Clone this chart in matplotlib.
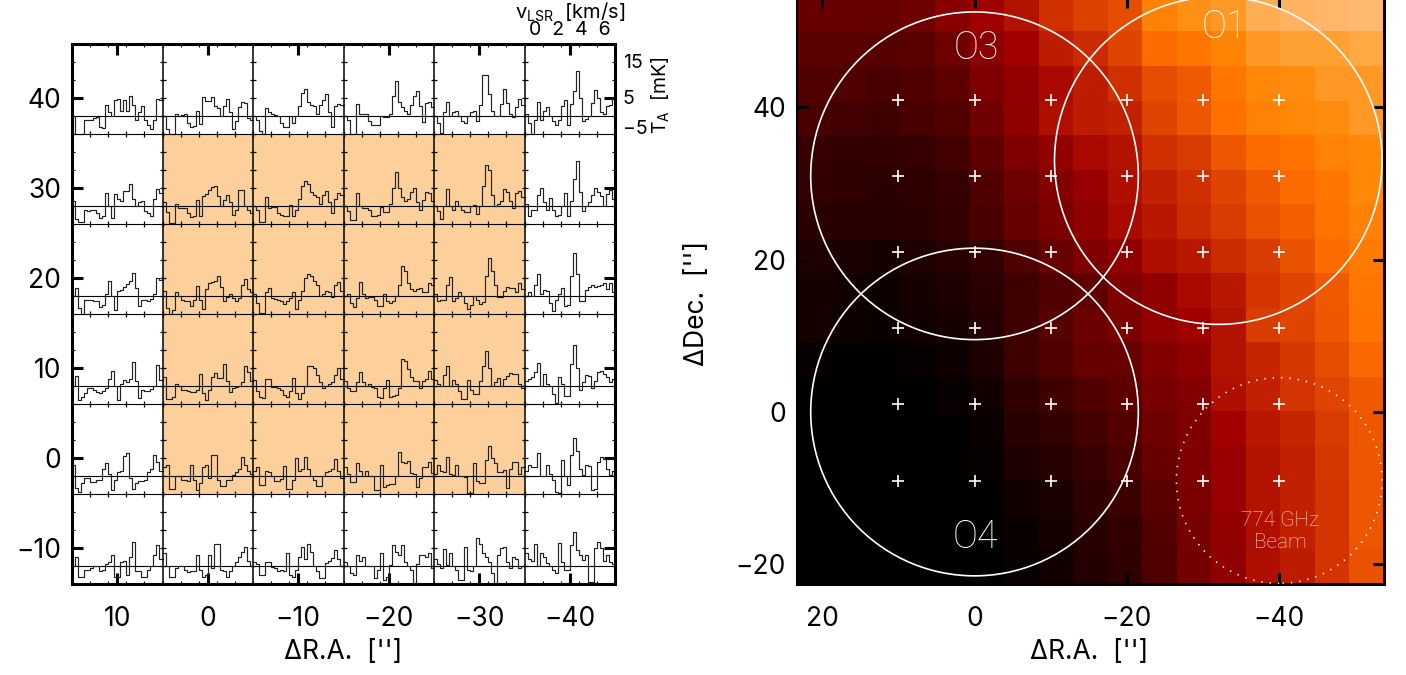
import numpy as np
import matplotlib
matplotlib.use('Agg')
import matplotlib.pyplot as plt
from matplotlib.colors import LinearSegmentedColormap
from matplotlib.patches import Circle, Rectangle

plt.rcParams['font.family'] = ['Inter', 'DejaVu Sans']
plt.rcParams['font.weight'] = 'normal'
plt.rcParams['mathtext.default'] = 'regular'

# spectra in mK, one list per panel (30 channels each)
row1 = [
    [0,-5,-5,-5,-1.2,-1,-1,-0.5,-0.2,-3,-3.2,3,1,0,4.5,4.8,1.5,4.5,1.5,5.6,3,-1,1,2.8,-1,-2.5,-3.5,-1,4.8,4.5],
    [0,-3.5,-5,-5,0.5,0,0.2,0.5,-2,-3,-2.8,1.3,-2.2,5.3,4.2,4.2,5.4,2.8,2.2,0,2.8,4.8,1,-3.5,-1.5,2.5,4,3.5,-0.5,-1],
    [0,-1,-4.2,-5,2.3,1,0.5,0.3,0,-2,-3,-3,0,-2,0,2.8,6.4,7.4,4,3,2.8,0.5,3,4.5,6.2,1,-3,2.8,3.2,3],
    [0,-1,-5,-5,3.2,0.5,0.5,0.5,-1.5,-2.4,-2.6,-2.4,0,-0.3,-0.3,0.5,5.5,9.7,4,2.5,1.5,0.5,3,5.5,7,2.8,-1.8,3.7,3.8,2.5],
    [0,-2,-4.6,1,4,0,1,1.4,0,-1.5,-2,0,1,1.4,-1.4,3,11.5,11.5,6,1.4,0,0,3.2,7.5,3.5,0.5,-0.3,2.5,4.6,3],
    [0.5,-2,-5,-1,4,-1,1.4,2.5,0,-1.5,-2.4,-1,2.8,4.4,-2.4,3.2,7,12.5,5,-1.4,-0.8,0,3.5,7.2,5,1,0.5,2.8,3,5],
]
row2 = [
    [1.4,-3.5,-4.5,-4.5,-1,-1.4,-1,-1,-2,-3.2,-2.8,3.7,0,-3.2,3.2,2,1.4,4.2,4.2,6.2,2,0,1,1.4,-1.4,-2,-2.8,2,4.8,3.5],
    [1,-1.8,-4.8,-4.8,0.6,-0.5,-0.5,-0.5,-2,-3,-2.8,1.8,-2.8,2.8,3.2,4.5,5.4,5.6,2.8,0,1.8,3,1,-2.4,-1,4.4,4.4,0,-1,-2],
    [0,-1,-4.4,-4.4,2.6,-0.5,-0.3,-0.3,-2,-2.4,-2.8,-2.8,0.4,-2.8,-1,2,5.5,7,6,4,3,2.5,0.5,3,4.2,1,-2,2,3.7,3],
    [0,-1.5,-3.8,-3.8,3.7,0,-0.5,-0.5,-1,-2.8,-2.8,-2.4,-0.2,-1.7,-1.7,0.6,5,9.4,5,2.6,1.4,2,4,5,1,-1,1.6,4,3.7,1.4],
    [0,-1.5,-3.7,0,4.6,0,-1,1.4,0,-1,-1.8,-1.8,0,0.4,-2.2,0,5.5,11.4,10,3,0,0.5,1.5,4.8,4,1.5,-0.5,3.7,4.2,2.5],
    [0.5,-2.8,-1,-1,3,5,1,-1,2.3,-1,-2.8,-2.4,0,3.7,-2.8,1.4,7.5,12.5,4,-1.4,0,1,3,4.9,4,2.8,0,3.2,4.5,2],
]
row3 = [
    [0,2.3,-3.2,-5,-1,-1,-1.2,-1.5,-1.5,-3,-2.4,0.5,4.2,0,-4,1.4,1.8,2.4,3.2,4.2,6.5,2.3,-2.8,-1,-1,-1.4,-0.8,0.5,5,4.5],
    [1.4,-3.2,-5,-4,1,0,-1,-1.4,-1.5,-2.8,-1,2.8,-1,-3.7,2,3.5,4,4.2,5.5,2.5,-1.4,-0.4,0.5,-0.5,-1.4,-0.5,3,4.6,2,1],
    [0.5,-2,-4.6,-4.6,1,2.3,-0.5,-0.8,-1,-1.4,-2.3,-1.5,-0.5,1,-3.7,-1,1.5,5,6.2,5.5,4.2,3,0,0.5,1.5,1,-0.3,3,4,1.5],
    [0,0.5,-2,-3,-0.5,4,0.5,-0.5,-0.2,-0.2,-1,-2.8,-2.8,0.5,-1.5,-2,-1.5,0,3,8.3,7,3.5,2,1.5,2,2.2,1,1,3.7,3],
    [0.5,-1.4,-1,-1,3,5.2,-1.4,-0.5,1,0,-2,-3.7,-2.5,0,-1,-2.3,-1.8,5.5,10.6,7,3,-0.3,-0.3,1.5,2.4,2.3,2.2,1,3.7,2],
    [0,1,0,3,6,0.5,1.8,1.5,-2,-4.2,-1,0.5,2.3,-2.8,-2.4,5.5,12,6,-1.5,-1.5,1.8,2.4,3,2.6,2.8,3,3.7,2,3.5,1],
]
row4 = [
    [0,2.8,-4,-3,-2,-0.5,-0.5,-1.2,-1.8,-2,-1.4,-0.5,2,4.2,0,-4,0.6,1.8,1,2,6.7,1.5,-3.4,-1,-1.4,-1.4,-0.8,0,5.8,1.8],
    [2.5,-3.7,-3.7,-3,0.5,0,-1,-1.2,-1.5,-1.8,-1.7,-1,3.2,-2,-4,-1,2.5,3.7,2.3,2.3,6,1.5,-1.7,-0.5,-0.3,0,1,5.5,4,1.5],
    [1.8,-1.5,-3,-3.2,2,2,-0.3,-0.3,-0.5,-1,-2.5,-3,-1.5,2.1,-2,-3.7,-2,0,5.5,5.5,5,3,1,-0.5,0,0.5,1,3,5,2],
    [1.5,-0.5,-1.4,-1.4,1,4,1,0,0.5,-0.3,-0.5,-3,-3.2,-0.5,1.8,-3,-2.8,-2.5,-0.5,7.5,7,4.6,2.5,1.5,1.5,-0.5,1.5,2,4.3,2],
    [1.8,0.5,0,3,5.5,0,1.8,0.5,-1.4,-3.7,-3.7,1.8,-1,-2.3,-2.3,1.5,5.5,9.7,5,0,1,2.3,0,2,2.8,3.7,3.2,3.2,0.5,-0.5],
    [1.5,2,2.5,4,6.5,0,3.2,0.5,0,-2.3,-4.6,2.5,0.5,-2.8,-2.8,6,11.4,5,-1,1,3,2.8,-0.5,1.5,4,4.2,3.2,2.6,1,2],
]
row5 = [
    [3,-3.4,-4.5,-2,-0.5,-0.5,-1.7,-1.7,-1.2,-1,2,3.5,0.5,-4,-1,1,1.5,5.5,6.5,-0.5,-3.7,-2,-1.5,-1.5,-1,1,2,5.8,4,1.5],
    [2.5,3,-3.7,-3.7,0,0,-1,-1.2,-1.5,3,-1,-4,-2,2.5,3,-0.5,5.8,5.8,-1,-2.8,-2.8,-1,-1,0.3,1,2,5.4,3,1.5,0.5],
    [1.5,2.5,-2.5,-2.5,1.5,1.2,0,-1.5,-1.5,-0.8,2.8,-3.7,-3.7,-1,5,1.5,2,5.4,2,0,-1,-2.8,-2.8,0,1,1.4,2,4.6,1.5,-0.5],
    [2.5,0.5,-1.6,-1.6,3.5,1.5,0,1.5,0,0,-3.8,-3.8,3,-3,-2.5,-2.2,-2.2,0,6.7,4,3.5,4.2,0.8,0.5,-3,-0.5,2.6,2.6,4,0.8],
    [0.5,3,1.5,1,5.4,0.5,0.3,3,0,0,-0.3,-4.8,-4.8,3.5,-1.5,-2,-2,4.5,8.4,5,3.5,1,1,1.6,-3.2,2,4,4,0.5,2.6],
    [1.5,3,2.6,2.6,6.3,0,0,3,0.5,-1,-4.4,-4.8,4.4,0,-2.5,5.8,10.5,7,2,0.3,3,2.8,-3.8,-3.5,3.8,5.4,4.8,2,0.3,1.5],
]
row6 = [
    [0,2.5,-3,-3,-1,-1,-0.5,0,0,-1.5,-1,0.5,1,3,-3,-3,1,1.5,-2.5,2.5,6.7,-1.5,-1.5,-3,-3,-1,0,3,5.8,2],
    [3.5,0,-3,-3,-0.5,0,0,-1,-1.8,-1.5,-1.5,3,-1,-3,-2.5,3,-0.5,6,6,-1,-1.5,-3,-1.5,0,1,2.5,4,5.4,1.5,0],
    [1,0.5,-2.5,-2.5,1,1.2,-0.3,-0.5,-1.5,-1,-1.5,3.5,-2.5,-3,-1,2.5,5.4,2,6,4,0,-1.5,-3.4,-3.4,0.8,1.5,2.2,4.4,2,0],
    [1,0,-2,-2.5,3,1.5,2.5,0,0,0,-3.4,-1,3.5,-3.9,-3,0.3,5.8,4,3,5.8,1,0,-1,-4.8,0.5,3,3,2.5,3.5,-0.5],
    [2,0.5,-0.5,4.7,0.3,3.7,0,-1,-3.9,-3.9,5.4,-1,-1.5,0,7.9,6,3.7,2.5,1,-2,-4.8,3,5,5.4,1,-0.5,2.5,2,-0.5,0],
    [3.5,2,1.5,6,0,3.7,2.5,0.7,0,-1.2,-2,6.3,1,-1,-1,5.8,9.5,4.5,3,1.7,3,-4.4,-4.4,5,6.7,5,1.5,3,1,0.5],
]
spectra = [row1, row2, row3, row4, row5, row6]
baselines = [38, 28, 18, 8, -2, -12]
panel_left = [15, 5, -5, -15, -25, -35]

# brightness map, top row first
map_rows = [
    [26,26,25,28,34,40,44,50,54,57,70,74,76,84,87,89,90],
    [23,23,22,23,28,35,40,46,49,55,64,67,71,76,78,78,81],
    [20,20,18,20,24,32,37,42,46,50,57,60,67,72,73,76,76],
    [18,17,16,18,21,28,36,43,46,47,55,59,65,70,72,73,76],
    [14,13,13,14,17,24,32,37,42,44,50,53,59,64,66,70,72],
    [13,12,11,12,14,20,28,33,38,43,47,50,55,60,64,67,72],
    [11,10,10,11,13,19,26,31,36,42,45,49,53,58,61,66,70],
    [8,7,6,8,10,13,20,26,32,36,43,45,49,53,58,64,68],
    [6,5,4,6,8,11,16,20,24,32,36,42,45,51,55,60,67],
    [6,4,3,5,6,9,16,22,27,31,37,40,44,53,55,59,66],
    [2,1,1,2,4,8,16,20,25,26,33,36,44,48,52,57,63],
    [0,0,0,0,2,5,12,16,20,24,30,33,43,47,51,55,60],
    [0,0,0,0,1,3,10,13,17,21,28,32,40,45,48,53,59],
    [0,0,0,0,1,2,8,10,14,18,26,32,38,44,47,52,59],
    [0,0,0,0,0,1,5,7,12,15,23,31,38,44,47,51,59],
    [0,0,0,0,0,0,3,6,10,13,21,30,37,43,47,51,59],
    [0,0,0,0,0,0,2,5,9,12,20,29,36,43,46,51,58],
]

# pointing positions and beams
grid_ra = [10, 0, -10, -20, -30, -40]
grid_dec = [41, 31, 21, 11, 1, -9]
regions = [('O3', 0, 31), ('O4', 0, 0), ('O1', -32, 33)]
beam_radius = 21.5

W, H = 1406, 675
fig = plt.figure(figsize=(W / 100, H / 100), dpi=100)


def axes_px(x0, y0, x1, y1):
    return fig.add_axes([x0 / W, 1 - y1 / H, (x1 - x0) / W, (y1 - y0) / H])


def text_px(x, y, s, **kw):
    kw.setdefault('ha', 'center')
    kw.setdefault('va', 'center')
    fig.text(x / W, 1 - y / H, s, **kw)


# left panel, spectra map
ax = axes_px(72, 44, 615, 584)
ax.set_xlim(15, -45)
ax.set_ylim(-14, 46)
ax.add_patch(Rectangle((-35, -4), 40, 40, fc='#fdd09b', ec='none', zorder=0))

for r, row in enumerate(spectra):
    base = baselines[r]
    ax.axhline(base, color='black', lw=0.8, zorder=2)
    for c, spec in enumerate(row):
        left = panel_left[c]
        xs = left - np.arange(len(spec) + 1) * 10 / len(spec)
        ys = base + np.array(spec + [spec[-1]]) * 0.4
        ax.step(xs, ys, where='post', color='#222222', lw=0.85, zorder=3)

# panel dividers with their little ticks
for x in panel_left[1:]:
    ax.axvline(x, color='black', lw=1.1, zorder=4)
    ax.plot([x] * 31, np.arange(-14, 47, 2), ls='', marker='_', ms=5, mew=0.9, color='black', zorder=4)
for y in [36, 26, 16, 6, -4]:
    ax.axhline(y, color='black', lw=0.8, zorder=4)
    ax.plot(np.arange(-45, 16, 2) + 0.0, [y] * 31, ls='', marker='|', ms=5, mew=0.9, color='black', zorder=4)

ax.set_xticks([10, 0, -10, -20, -30, -40])
ax.set_xticklabels(['10', '0', '\u221210', '\u221220', '\u221230', '\u221240'])
ax.set_yticks([40, 30, 20, 10, 0, -10])
ax.set_yticklabels(['40', '30', '20', '10', '0', '\u221210'])
ax.set_xticks(np.arange(-45, 16, 2), minor=True)
ax.set_yticks(np.arange(-14, 47, 2), minor=True)
ax.tick_params(which='major', direction='in', length=8, width=2.2, top=True, right=True, labelsize=19, pad=8)
ax.tick_params(axis='x', which='major', pad=16)
ax.tick_params(which='minor', direction='in', length=2, width=0.8, top=True, right=True)
for s in ax.spines.values():
    s.set_linewidth(2.2)
    s.set_zorder(6)

# right panel, line map
ax2 = axes_px(797, -3, 1384, 584)
cmap = LinearSegmentedColormap.from_list('redtemp', [
    (0.0, '#000000'), (0.2, '#500000'), (0.4, '#a00000'), (0.5, '#d03000'),
    (0.65, '#ff7000'), (0.72, '#ff8808'), (0.8, '#ffa840'), (0.9, '#ffb870'), (1.0, '#ffc890')])
xlim = (23.3, -53.75)
ylim = (-22.57, 54.46)
ax2.imshow(np.array(map_rows), cmap=cmap, vmin=0, vmax=100, aspect='auto', interpolation='nearest',
           extent=[xlim[0], xlim[1], ylim[0], ylim[1]], origin='upper', zorder=0)
ax2.set_xlim(xlim)
ax2.set_ylim(ylim)

for name, ra, dec in regions:
    ax2.add_patch(Circle((ra, dec), beam_radius, fill=False, ec='white', lw=1.2, zorder=3))
ax2.add_patch(Circle((-40, -9), 13.5, fill=False, ec='white', lw=1.2, ls=(0, (0.8, 4.2)), zorder=3))

ra_pts = [r for r in grid_ra for d in grid_dec]
dec_pts = [d for r in grid_ra for d in grid_dec]
ax2.plot(ra_pts, dec_pts, ls='', marker='+', ms=9, mew=1.2, color='white', zorder=4)

ax2.set_xticks([20, 0, -20, -40])
ax2.set_xticklabels(['20', '0', '\u221220', '\u221240'])
ax2.set_yticks([40, 20, 0, -20])
ax2.set_yticklabels(['40', '20', '0', '\u221220'])
ax2.tick_params(direction='in', length=8, width=2.2, top=True, right=True, labelsize=19, pad=8)
ax2.tick_params(axis='x', pad=16)
ax2.spines['left'].set_linewidth(1.5)
ax2.spines['right'].set_linewidth(2.2)
ax2.spines['bottom'].set_linewidth(2.2)

# text around the panels
text_px(343, 652, '\u0394R.A.  [\'\']', fontsize=19)
text_px(1089, 652, '\u0394R.A.  [\'\']', fontsize=19)
text_px(697, 303, '\u0394Dec.  [\'\']', fontsize=19, rotation=90)

text_px(570, 12, r'v$_{LSR}$  [km/s]', fontsize=14.5)
text_px(570, 30, '0  2  4  6', fontsize=14)
text_px(623, 63, '15', fontsize=14, ha='left')
text_px(623, 99, '5', fontsize=14, ha='left')
text_px(623, 129, '\u22125', fontsize=14, ha='left')
text_px(661, 95, r'T$_{A}$  [mK]', fontsize=14, rotation=90)

light = dict(family=['Roboto', 'DejaVu Sans'], weight='light')
text_px(976, 48, 'O3', fontsize=27, color='white', **light)
text_px(1224, 27, 'O1', fontsize=27, color='white', **light)
text_px(975, 537, 'O4', fontsize=27, color='white', **light)
text_px(1280, 521, '774 GHz', fontsize=15, color='#f8d8cc', **light)
text_px(1280, 543, 'Beam', fontsize=15, color='#f8d8cc', **light)

fig.savefig('out.png', dpi=100)
